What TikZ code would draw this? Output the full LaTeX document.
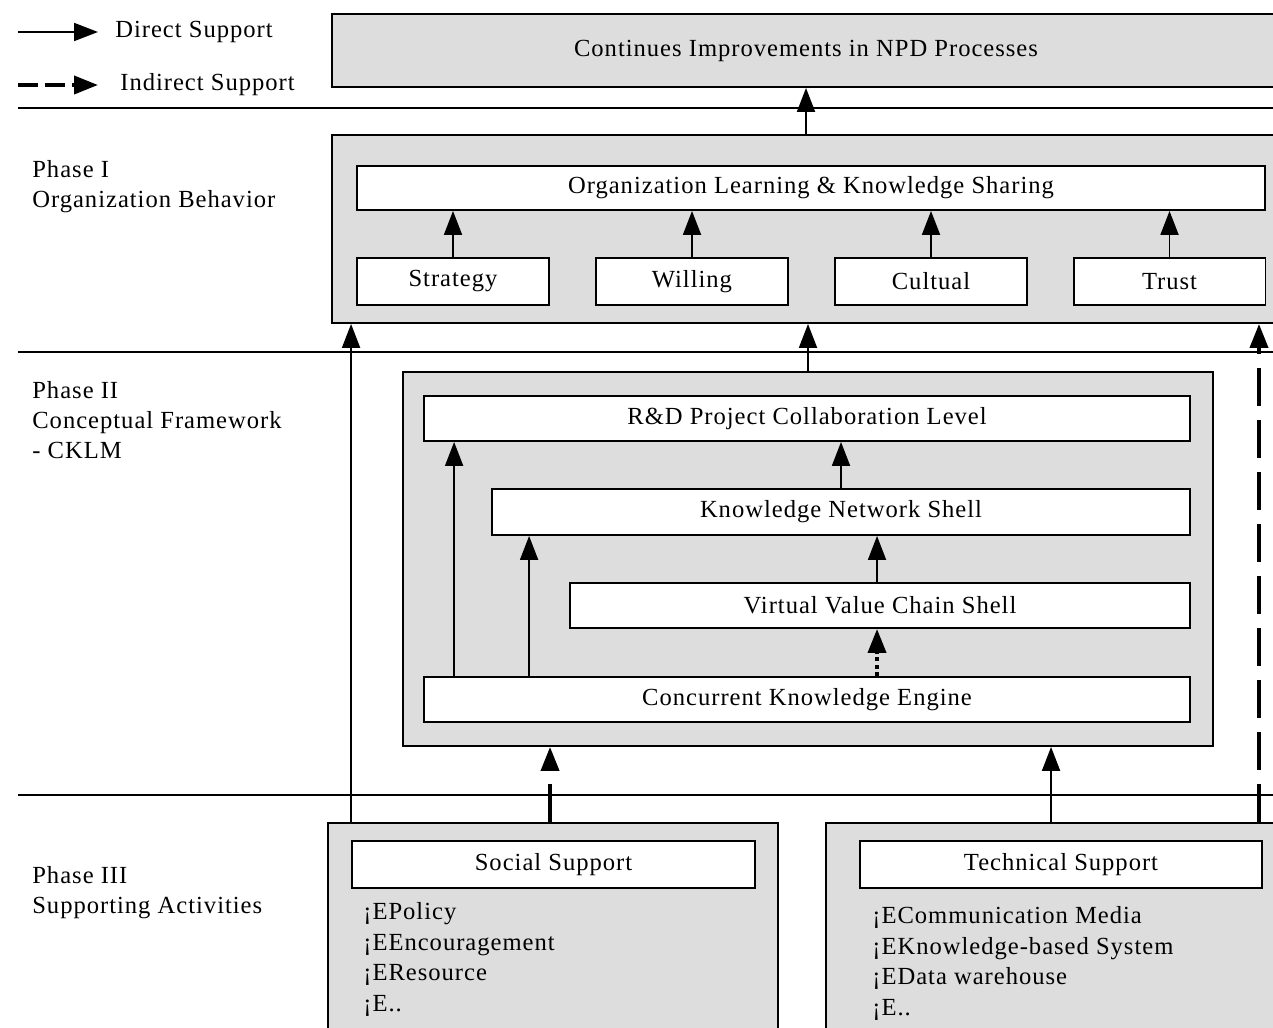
\documentclass[tikz,border=0pt]{standalone}
\usepackage{fontspec}
\setmainfont{Liberation Serif}[LetterSpace=4]
\usetikzlibrary{arrows.meta,calc}
\definecolor{panelgray}{RGB}{221,221,221}
\begin{document}
\begin{tikzpicture}[x=0.02cm,y=-0.02cm,
  every node/.style={font=\fontsize{14}{17}\selectfont},
  panel/.style={draw, line width=1.1pt, fill=panelgray, inner sep=0},
  box/.style={draw, line width=1.1pt, fill=white, inner sep=0},
  tip/.style={-{Triangle[length=0.48cm,width=0.36cm]}},
  sup/.style={line width=1.1pt, tip},
  indsup/.style={line width=2.2pt, dash pattern=on 0.76cm off 0.28cm, tip},
  dotsup/.style={line width=2.2pt, dash pattern=on 0.08cm off 0.07cm, tip},
  rule/.style={line width=1.1pt},
  phase/.style={align=left, anchor=north west, inner sep=0},
  items/.style={align=left, anchor=north west, inner sep=0, font=\fontsize{14}{17.5}\selectfont}
]
\useasboundingbox (0,0) rectangle (1273,1027);
\clip (0,0) rectangle (1273,1027);

% legend
\coordinate (dsA) at (18,32);
\coordinate (dsB) at (98,32);
\node[anchor=west, inner sep=0] (dsT) at (115,32) {Direct Support};
\draw[sup] (dsA) -- (dsB);
\coordinate (isA) at (18,85);
\coordinate (isB) at (98,85);
\node[anchor=west, inner sep=0] (isT) at (120,85) {Indirect Support};
\draw[indsup, dash pattern=on 0.4cm off 0.14cm] (isA) -- (isB);

% phase separators
\draw[rule] (18,108) -- (1280,108);
\draw[rule] (18,352) -- (1280,352);
\draw[rule] (18,795) -- (1280,795);

% phase titles
\node[phase] (ph1) at (32,160) {Phase I\\Organization Behavior};
\node[phase] (ph2) at (32,381) {Phase II\\Conceptual Framework\\- CKLM};
\node[phase] (ph3) at (32,866) {Phase III\\Supporting Activities};

% goal
\node[panel, minimum width=18.96cm, minimum height=1.46cm] (goal) at (806,50.5)
  {Continues Improvements in NPD Processes};

% phase I: organization behavior
\node[panel, minimum width=18.96cm, minimum height=3.76cm] (p1) at (806,229) {};
\node[box, minimum width=18.16cm, minimum height=0.88cm] (olks) at (811,188)
  {Organization Learning \& Knowledge Sharing};
\node[box, minimum width=3.84cm, minimum height=0.94cm] (strat) at (453,281.5) {Strategy};
\node[box, minimum width=3.84cm, minimum height=0.94cm] (will) at (692,281.5) {Willing};
\node[box, minimum width=3.84cm, minimum height=0.94cm] (cult) at (931,281.5) {Cultual};
\node[box, minimum width=3.84cm, minimum height=0.94cm] (trust) at (1169.5,281.5) {Trust};

% phase II: conceptual framework
\node[panel, minimum width=16.2cm, minimum height=7.48cm] (p2) at (808,559) {};
\node[box, minimum width=15.32cm, minimum height=0.9cm] (rd) at (807,418.5)
  {R\&D Project Collaboration Level};
\node[box, minimum width=13.96cm, minimum height=0.92cm] (kns) at (841,512)
  {Knowledge Network Shell};
\node[box, minimum width=12.4cm, minimum height=0.9cm] (vvcs) at (880,605.5)
  {Virtual Value Chain Shell};
\node[box, minimum width=15.32cm, minimum height=0.9cm] (cke) at (807,699.5)
  {Concurrent Knowledge Engine};

% phase III: supporting activities
\node[panel, minimum width=9.0cm, minimum height=4.24cm] (soc) at (553,929) {};
\node[box, minimum width=8.06cm, minimum height=0.94cm] (socT) at (553.5,864.5) {Social Support};
\node[items] (socL) at (363,902) {¡EPolicy\\¡EEncouragement\\¡EResource\\¡E..};
\node[panel, minimum width=9.08cm, minimum height=4.24cm] (tec) at (1053,929) {};
\node[box, minimum width=8.04cm, minimum height=0.94cm] (tecT) at (1061,864.5) {Technical Support};
\node[items] (tecL) at (872,906) {¡ECommunication Media\\¡EKnowledge-based System\\¡EData warehouse\\¡E..};

% connectors inside phase I
\draw[sup] (p1.north) -- (goal.south);
\foreach \n in {strat,will,cult,trust}
  \draw[sup] (\n.north) -- (\n.north |- olks.south);

% connectors inside phase II
\coordinate (ckA) at ([xshift=0.62cm]cke.north west);
\coordinate (ckB) at ([xshift=2.12cm]cke.north west);
\coordinate (ckC) at ([xshift=9.08cm]cke.north west);
\draw[sup] (ckA) -- (ckA |- rd.south);
\draw[sup] (ckB) -- (ckB |- kns.south);
\draw[dotsup] (ckC) -- (ckC |- vvcs.south);
\draw[sup] (vvcs.north -| ckC) -- (ckC |- kns.south);
\draw[sup] (kns.north) -- (kns.north |- rd.south);
\draw[sup] (p2.north) -- (p2.north |- p1.south);

% connectors from phase III
\coordinate (sL) at ([xshift=0.48cm]soc.north west);
\draw[sup] (sL) -- (sL |- p1.south);
\coordinate (sM) at ([xshift=4.46cm]soc.north west);
\draw[indsup] (sM) -- (sM |- p2.south);
\coordinate (tM) at ([xshift=4.52cm]tec.north west);
\draw[sup] (tM) -- (tM |- p2.south);
\coordinate (tR) at ([xshift=8.68cm]tec.north west);
\draw[indsup] (tR) -- (tR |- p1.south);
\end{tikzpicture}
\end{document}
